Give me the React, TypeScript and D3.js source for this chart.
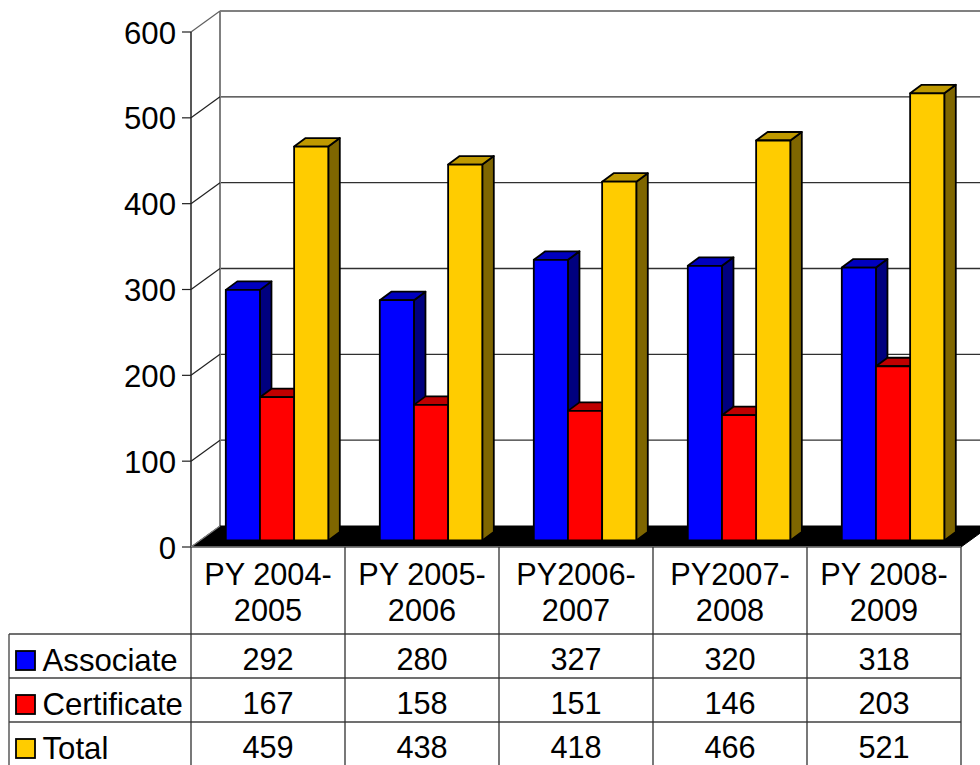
import React from "react";
import * as d3 from "d3";

const categories = ["PY 2004-2005", "PY 2005-2006", "PY2006-2007", "PY2007-2008", "PY 2008-2009"];
const categoryLines = [["PY 2004-", "2005"], ["PY 2005-", "2006"], ["PY2006-", "2007"], ["PY2007-", "2008"], ["PY 2008-", "2009"]];
const seriesNames = ["Associate", "Certificate", "Total"];
const associate = [292, 280, 327, 320, 318];
const certificate = [167, 158, 151, 146, 203];
const total = [459, 438, 418, 466, 521];
const yTicks = [0, 100, 200, 300, 400, 500, 600];
const seriesValues = [associate, certificate, total];
const frontColors = ["#0000ff", "#ff0000", "#ffcc00"];
const topColors = ["#0000bf", "#bf0000", "#bf9900"];
const sideColors = ["#00007f", "#7f0000", "#7f6600"];

const FONT = "'Liberation Sans', Arial, sans-serif";
const FS = 30.7;
const DX = 29, DY = -21;   // wall depth
const BDX = 11.5, BDY = -8.5; // bar depth
const floorFront = 547;

const x = d3.scaleBand<string>().domain(categories).range([191, 961]);
const yFront = d3.scaleLinear().domain([0, 600]).range([floorFront, 32]);
const yBar = d3.scaleLinear().domain([0, 600]).range([540.5, 25.5]);
const xSeries = d3.scaleBand<string>().domain(seriesNames).range([34.8, 137.3]);
const pts = (a: number[][]) => a.map((p) => p.join(",")).join(" ");

export default function App() {
  const rowY = [634, 678, 722, 766];
  const cols = [...categories.map((c) => x(c) as number), 961];
  const backRight = 985;
  return (
    <svg width={980} height={765} viewBox="0 0 980 765"
      style={{ position: "absolute", left: 0, top: 0, background: "#fff" }} fontFamily={FONT}>
      {/* back wall and gridlines */}
      {yTicks.slice(1, 6).map((t) => (
        <line key={t} x1={191 + DX} x2={backRight} y1={yFront(t) + DY} y2={yFront(t) + DY} stroke="#303030" strokeWidth={1.3} />
      ))}
      <line x1={191 + DX} x2={backRight} y1={yFront(600) + DY} y2={yFront(600) + DY} stroke="#808080" strokeWidth={2} />
      <line x1={191 + DX} x2={191 + DX} y1={yFront(600) + DY} y2={floorFront + DY} stroke="#808080" strokeWidth={2} />
      {/* side wall */}
      {yTicks.slice(1).map((t) => (
        <line key={t} x1={191} x2={191 + DX} y1={yFront(t)} y2={yFront(t) + DY} stroke={t === 600 ? "#606060" : "#202020"} strokeWidth={1.2} />
      ))}
      <line x1={191} x2={191} y1={yFront(600)} y2={floorFront} stroke="#202020" strokeWidth={1.5} />
      {/* floor */}
      <polygon points={pts([[191, floorFront], [191 + DX, floorFront + DY], [961 + DX, floorFront + DY], [961, floorFront]])} fill="#000" stroke="#000" />
      <line x1={191} x2={191 + DX} y1={floorFront} y2={floorFront + DY} stroke="#808080" strokeWidth={1.2} />
      {/* bars */}
      {categories.map((c, i) =>
        seriesNames.map((s, k) => {
          const v = seriesValues[k][i];
          const x0 = (x(c) as number) + (xSeries(s) as number);
          const w = xSeries.bandwidth();
          const y0 = yBar(v), yb = yBar(0);
          return (
            <g key={s} stroke="#000" strokeWidth={1.8} strokeLinejoin="round">
              <polygon fill={sideColors[k]} points={pts([[x0 + w, y0], [x0 + w + BDX, y0 + BDY], [x0 + w + BDX, yb + BDY], [x0 + w, yb]])} />
              <polygon fill={topColors[k]} points={pts([[x0, y0], [x0 + BDX, y0 + BDY], [x0 + w + BDX, y0 + BDY], [x0 + w, y0]])} />
              <rect x={x0} y={y0} width={w} height={yb - y0} fill={frontColors[k]} />
            </g>
          );
        })
      )}
      {/* value axis */}
      {yTicks.map((t) => (
        <g key={t}>
          <line x1={182} x2={191} y1={yFront(t)} y2={yFront(t)} stroke="#202020" strokeWidth={1.2} />
          <text x={176} y={yFront(t) + 11.5} fontSize={31.2} textAnchor="end" fill="#000">{t}</text>
        </g>
      ))}
      {/* data table */}
      <line x1={191} x2={961} y1={floorFront} y2={floorFront} stroke="#808080" strokeWidth={1.5} />
      {rowY.slice(0, 3).map((y) => (
        <line key={y} x1={9} x2={961} y1={y} y2={y} stroke="#404040" strokeWidth={1.3} />
      ))}
      <line x1={9} x2={9} y1={634} y2={766} stroke="#404040" strokeWidth={1.3} />
      {cols.map((cx, i) => (
        <line key={i} x1={cx} x2={cx} y1={floorFront} y2={766} stroke="#303030" strokeWidth={1.3} />
      ))}
      {categories.map((c, i) => {
        const cx = (x(c) as number) + x.bandwidth() / 2;
        return (
          <g key={c} fontSize={FS} textAnchor="middle" fill="#000">
            <text x={cx} y={584.5}>{categoryLines[i][0]}</text>
            <text x={cx} y={620.5}>{categoryLines[i][1]}</text>
            {seriesValues.map((vals, k) => (
              <text key={k} x={cx} y={rowY[k] + 36}>{vals[i]}</text>
            ))}
          </g>
        );
      })}
      {seriesNames.map((s, k) => (
        <g key={s}>
          <rect x={16} y={rowY[k] + 17} width={19} height={19} fill={frontColors[k]} stroke="#000" strokeWidth={1.8} />
          <text x={42.5} y={rowY[k] + 37} fontSize={31.2} fill="#000">{s}</text>
        </g>
      ))}
    </svg>
  );
}
